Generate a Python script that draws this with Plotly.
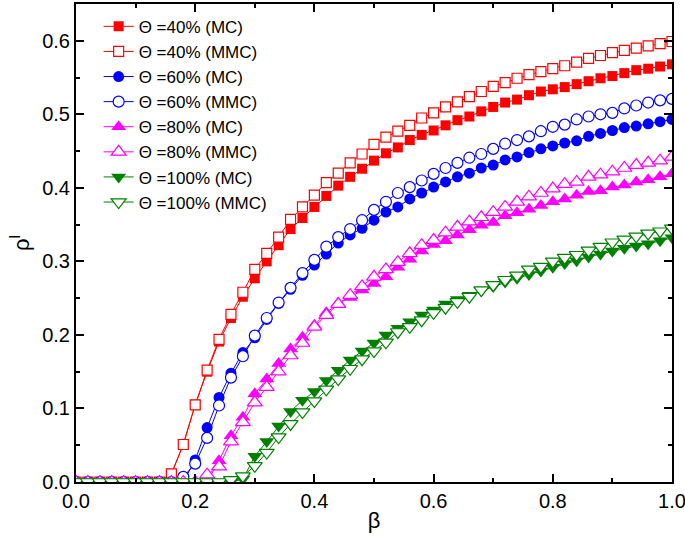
import plotly.graph_objects as go

beta = [round(i * 0.02, 2) for i in range(51)]

red_mc = [0, 0, 0, 0, 0, 0, 0, 0,
          0.011, 0.051, 0.105, 0.150, 0.191, 0.223, 0.252, 0.277, 0.300, 0.322,
          0.344, 0.359, 0.374, 0.389, 0.403, 0.415, 0.426, 0.437, 0.447, 0.455,
          0.465, 0.472, 0.478, 0.485, 0.492, 0.497, 0.504, 0.510, 0.516, 0.520,
          0.526, 0.531, 0.534, 0.537, 0.541, 0.545, 0.549, 0.552, 0.556, 0.560,
          0.562, 0.565, 0.568]
red_mmc = [0, 0, 0, 0, 0, 0, 0, 0,
           0.011, 0.051, 0.105, 0.152, 0.194, 0.228, 0.258, 0.289, 0.311, 0.333,
           0.357, 0.374, 0.390, 0.407, 0.420, 0.434, 0.446, 0.459, 0.469, 0.477,
           0.485, 0.495, 0.502, 0.510, 0.517, 0.524, 0.531, 0.538, 0.543, 0.549,
           0.554, 0.558, 0.562, 0.566, 0.571, 0.576, 0.580, 0.584, 0.587, 0.590,
           0.593, 0.596, 0.599]
blue_mc = [0, 0, 0, 0, 0, 0, 0, 0, 0, 0,
           0.030, 0.074, 0.115, 0.148, 0.176, 0.196, 0.221, 0.243, 0.262, 0.281,
           0.295, 0.310, 0.325, 0.336, 0.345, 0.356, 0.367, 0.374, 0.385, 0.393,
           0.401, 0.408, 0.415, 0.420, 0.427, 0.431, 0.438, 0.442, 0.448, 0.453,
           0.457, 0.461, 0.464, 0.470, 0.474, 0.478, 0.482, 0.484, 0.487, 0.490,
           0.493]
blue_mmc = [0, 0, 0, 0, 0, 0, 0, 0, 0,
            0.007, 0.025, 0.060, 0.104, 0.142, 0.171, 0.199, 0.223, 0.244, 0.264,
            0.284, 0.302, 0.320, 0.333, 0.344, 0.356, 0.370, 0.381, 0.393, 0.401,
            0.410, 0.419, 0.427, 0.434, 0.441, 0.446, 0.453, 0.460, 0.465, 0.470,
            0.477, 0.483, 0.486, 0.493, 0.497, 0.500, 0.502, 0.508, 0.512, 0.516,
            0.519, 0.521]
mag_mc = [0, 0, 0, 0, 0, 0, 0, 0, 0, 0, 0, 0,
          0.029, 0.063, 0.088, 0.120, 0.140, 0.161, 0.181, 0.197, 0.213, 0.230,
          0.243, 0.251, 0.261, 0.270, 0.279, 0.292, 0.303, 0.314, 0.323, 0.328,
          0.336, 0.343, 0.349, 0.353, 0.362, 0.366, 0.371, 0.376, 0.381, 0.385,
          0.390, 0.395, 0.396, 0.401, 0.404, 0.408, 0.411, 0.415, 0.419]
mag_mmc = [0, 0, 0, 0, 0, 0, 0, 0, 0, 0, 0,
           0.010, 0.021, 0.055, 0.081, 0.108, 0.129, 0.150, 0.172, 0.189, 0.211,
           0.227, 0.242, 0.254, 0.266, 0.279, 0.289, 0.299, 0.311, 0.322, 0.329,
           0.339, 0.347, 0.354, 0.360, 0.367, 0.374, 0.381, 0.388, 0.393, 0.399,
           0.405, 0.408, 0.415, 0.418, 0.422, 0.427, 0.431, 0.434, 0.437, 0.442]
green_mc = [0, 0, 0, 0, 0, 0, 0, 0, 0, 0, 0, 0, 0, 0,
            0.004, 0.035, 0.055, 0.076, 0.096, 0.111, 0.123, 0.138, 0.152, 0.166,
            0.178, 0.189, 0.200, 0.209, 0.218, 0.227, 0.234, 0.242, 0.248, 0.254,
            0.260, 0.266, 0.272, 0.277, 0.282, 0.287, 0.292, 0.297, 0.301, 0.306,
            0.310, 0.314, 0.318, 0.321, 0.324, 0.328, 0.332]
green_mmc = [0, 0, 0, 0, 0, 0, 0, 0, 0, 0, 0, 0, 0,
             0.003, 0.008, 0.022, 0.040, 0.061, 0.079, 0.095, 0.110, 0.126, 0.140,
             0.154, 0.167, 0.178, 0.190, 0.204, 0.211, 0.220, 0.230, 0.237, 0.245,
             0.252, 0.261, 0.268, 0.275, 0.281, 0.289, 0.293, 0.300, 0.305, 0.309,
             0.315, 0.320, 0.326, 0.330, 0.334, 0.338, 0.341, 0.345]

series = [
    ("Θ =40% (MC)", red_mc, "#FF0000", "square", True, 10),
    ("Θ =40% (MMC)", red_mmc, "#FF0000", "square", False, 10),
    ("Θ =60% (MC)", blue_mc, "#0000FF", "circle", True, 11),
    ("Θ =60% (MMC)", blue_mmc, "#0000FF", "circle", False, 11),
    ("Θ =80% (MC)", mag_mc, "#FF00FF", "triangle-up", True, 13),
    ("Θ =80% (MMC)", mag_mmc, "#FF00FF", "triangle-up", False, 13),
    ("Θ =100% (MC)", green_mc, "#008000", "triangle-down", True, 13),
    ("Θ =100% (MMC)", green_mmc, "#008000", "triangle-down", False, 13),
]

fig = go.Figure()
for name, ys, col, sym, filled, sz in series:
    fig.add_trace(go.Scatter(
        x=beta, y=ys, name=name, mode="lines+markers",
        line=dict(color=col, width=1),
        marker=dict(symbol=sym, size=sz,
                    color=col if filled else "white",
                    line=dict(color=col, width=0 if filled else 1.2)),
        cliponaxis=True,
    ))

font = "Liberation Sans, Arial, sans-serif"
fig.update_layout(
    width=685, height=552,
    margin=dict(l=76, r=13, t=4, b=70),
    paper_bgcolor="white", plot_bgcolor="white",
    font=dict(family=font, size=20, color="black"),
    showlegend=True,
    legend=dict(x=0.038, y=0.99, xanchor="left", yanchor="top",
                bgcolor="rgba(0,0,0,0)", font=dict(size=17, family=font),
                tracegroupgap=0, itemsizing="trace"),
)
fig.update_xaxes(
    range=[0, 1], tickvals=[0, 0.2, 0.4, 0.6, 0.8, 1.0], tickformat=".1f",
    showgrid=False, zeroline=False, showline=True, linecolor="black", linewidth=2,
    mirror="allticks", ticks="inside", ticklen=8, tickwidth=1.5, tickcolor="black",
    minor=dict(ticks="inside", ticklen=4, tickwidth=1.5, tickcolor="black", dtick=0.1, showgrid=False),
    title=dict(text="β", font=dict(size=22, family=font), standoff=2),
    tickfont=dict(size=20),
    ticklabeloverflow="allow",
    automargin=False,
)
fig.update_yaxes(
    range=[0, 0.65], tickvals=[0, 0.1, 0.2, 0.3, 0.4, 0.5, 0.6], tickformat=".1f",
    showgrid=False, zeroline=False, showline=True, linecolor="black", linewidth=2,
    mirror="allticks", ticks="inside", ticklen=8, tickwidth=1.5, tickcolor="black",
    minor=dict(ticks="inside", ticklen=4, tickwidth=1.5, tickcolor="black", dtick=0.05, showgrid=False),
    title=dict(text="ρ<sup>l</sup>", font=dict(size=22, family=font), standoff=6),
    tickfont=dict(size=20),
    ticklabeloverflow="allow",
    automargin=False,
)

fig.write_html("out.html", config={"displayModeBar": False},
               post_script="document.body.style.margin='0px';")
